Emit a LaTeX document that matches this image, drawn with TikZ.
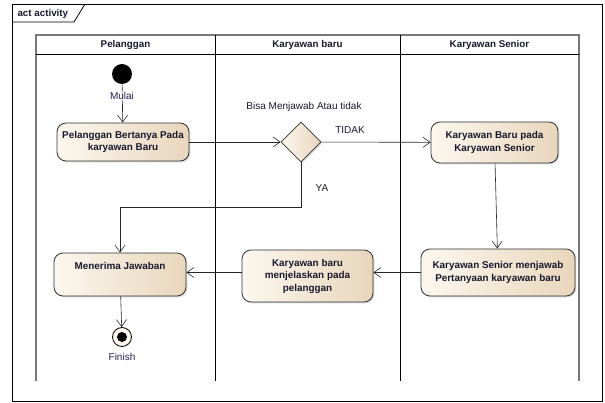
\documentclass[tikz,border=0pt]{standalone}
\usepackage{fontspec}
\setmainfont{Liberation Sans}
\usetikzlibrary{arrows.meta,shapes.geometric,shadows}
\definecolor{boxL}{RGB}{252,247,238}
\definecolor{boxR}{RGB}{232,214,188}
\definecolor{laneGray}{RGB}{120,120,120}
\definecolor{lblue}{RGB}{40,30,80}
\definecolor{txt}{RGB}{25,25,45}
\begin{document}
\begin{tikzpicture}[x=1pt,y=-1pt,
  action/.style={draw=black!80, line width=0.8pt, rounded corners=9pt,
    left color=boxL, right color=boxR, align=center, text=txt,
    font=\fontsize{9.9}{12.5}\selectfont\bfseries, inner sep=2pt,
    drop shadow={shadow xshift=1.3pt,shadow yshift=-1.3pt,opacity=0.3}},
  decision/.style={diamond, draw=black!80, line width=0.8pt, aspect=1,
    minimum size=40pt, inner sep=0pt, left color=boxL, right color=boxR,
    drop shadow={shadow xshift=1.3pt,shadow yshift=-1.3pt,opacity=0.3}},
  flow/.style={draw=black!85, line width=0.6pt, -{Straight Barb[length=7pt,width=10pt]}},
  lbl/.style={font=\fontsize{10}{12}\selectfont, text=txt},
  hdr/.style={font=\fontsize{9.8}{12}\selectfont\bfseries, text=txt}]
\useasboundingbox (0,0) rectangle (605,403);
% frame
\draw[line width=0.8pt] (12,4) rectangle (602,401);
\draw[line width=0.8pt] (12,22) -- (74,22) -- (85,4);
\node[hdr, anchor=west] (title) at (14,13.5) {act activity};
% lanes
\draw[laneGray, line width=1.5pt] (36,381) -- (36,35) -- (579,35) -- (579,381);
\draw[line width=0.8pt] (36,54) -- (579,54);
\draw[line width=0.8pt] (215,35) -- (215,381);
\draw[line width=0.8pt] (400,35) -- (400,381);
\node[hdr] (h1) at (125.5,44.5) {Pelanggan};
\node[hdr] (h2) at (307.5,44.5) {Karyawan baru};
\node[hdr] (h3) at (489.5,44.5) {Karyawan Senior};
% nodes
\node[circle, fill=black, minimum size=20pt, inner sep=0pt] (start) at (122,74) {};
\node[circle, draw=black, line width=0.8pt, fill=boxL, minimum size=19pt, inner sep=0pt] (fin) at (122,337) {};
\fill (fin.center) circle (5pt);
\node[action, minimum width=132pt, minimum height=38pt] (a1) at (123,142) {Pelanggan Bertanya Pada\\karyawan Baru};
\node[decision] (dec) at (301,142) {};
\node[action, minimum width=127pt, minimum height=41pt] (a2) at (494.5,142.5) {Karyawan Baru pada\\Karyawan Senior};
\node[action, minimum width=154pt, minimum height=47pt] (a3) at (498,272.5) {Karyawan Senior menjawab\\Pertanyaan karyawan baru};
\node[action, minimum width=131pt, minimum height=52pt] (a4) at (307.5,276) {Karyawan baru\\menjelaskan pada\\pelanggan};
\node[action, minimum width=132pt, minimum height=43pt, text depth=17pt] (a5) at (120,274.5) {Menerima Jawaban};
\coordinate (turn) at (301,207);
% edges
\draw[flow] (start) -- (a1);
\draw[flow] (a1) -- (dec);
\draw[flow] (dec) -- (a2);
\draw[flow] (dec.south) -- (turn) -| (a5.north);
\draw[flow] (a2) -- (a3);
\draw[flow] (a3.west) -- (a3.west -| a4.east);
\draw[flow] (a4.east |- a3.west) ++(-131pt,0) coordinate (a4w) -- (a4w -| a5.east);
\draw[flow] (a5) -- (fin);
% labels
\node[lbl, text=lblue, fill=white, fill opacity=0.6, text opacity=1, inner sep=1pt] (mulai) at (122,96) {Mulai};
\node[lbl, text=lblue] (finish) at (122,357) {Finish};
\node[lbl] (q) at (304,107) {Bisa Menjawab Atau tidak};
\node[lbl] (tidak) at (350,130) {TIDAK};
\node[lbl] (ya) at (322,188) {YA};
\end{tikzpicture}
\end{document}
